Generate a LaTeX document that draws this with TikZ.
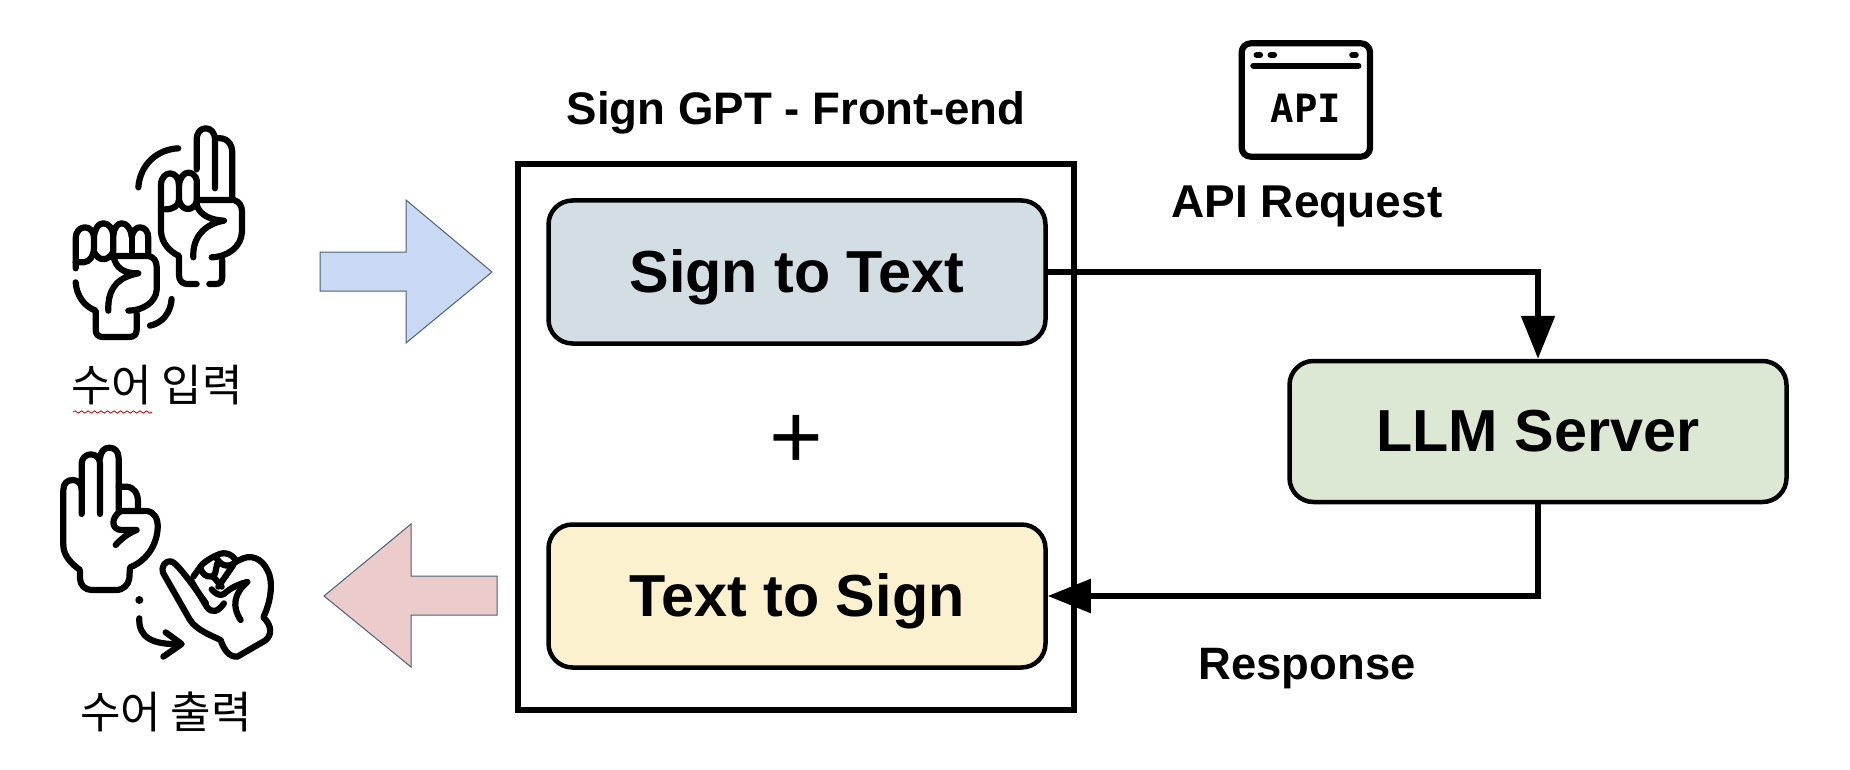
\documentclass[tikz,border=0pt]{standalone}
\usepackage{fontspec}
\setmainfont{Liberation Sans}
\newfontfamily\krfont{Noto Sans CJK KR}
\newfontfamily\apifont{DejaVu Sans Mono}
\usetikzlibrary{arrows.meta,decorations.pathmorphing}
\definecolor{paneblue}{HTML}{D2DEE3}
\definecolor{paneyellow}{HTML}{FBF1CF}
\definecolor{panegreen}{HTML}{DDE8D4}
\definecolor{arrowblue}{HTML}{C9D8F3}
\definecolor{arrowpink}{HTML}{EBCCCB}
\definecolor{arrowedge}{HTML}{4F5F7A}
\tikzset{
  x=1pt,y=-1pt,
  pane/.style={draw=black,line width=4.5pt,rounded corners=24pt,minimum width=497pt,minimum height=143pt,inner sep=0pt,font=\fontsize{59.3}{59}\selectfont\bfseries},
  frontend/.style={draw=black,line width=6pt,minimum width=556pt,minimum height=546pt},
  label/.style={inner sep=0pt,font=\fontsize{46}{46}\selectfont\bfseries},
  krlabel/.style={inner sep=0pt,font=\fontsize{44}{44}\selectfont\krfont},
  link/.style={line width=5.5pt,-{Triangle[length=43pt,width=33pt]}},
  bigarrow/.style={draw=arrowedge,line width=1pt},
  glyph/.style={line width=6.2pt,line cap=round,line join=round,draw=black},
}
\begin{document}
\begin{tikzpicture}
\useasboundingbox (0,0) rectangle (1850,770);

% front-end
\node[frontend] (fe) at (796,437) {};
\node[pane,fill=paneblue,text depth=5pt,text height=50pt] (s2t) at (797,272) {};
\node[inner sep=0pt,font=\fontsize{59.3}{59}\selectfont\bfseries] (s2ttext) at (797,277) {Sign to Text};
\node[pane,fill=paneyellow] (t2s) at (797,596) {};
\node[inner sep=0pt,font=\fontsize{59.3}{59}\selectfont\bfseries] (t2stext) at (797,601) {Text to Sign};
\node[pane,fill=panegreen,minimum height=141pt] (llm) at (1538,431.5) {LLM Server};
\node[inner sep=0pt,font=\fontsize{92}{92}\selectfont] (plus) at (796,442) {+};
\node[label,font=\fontsize{45.6}{46}\selectfont\bfseries] (title) at (796,113) {Sign GPT - Front-end};
\node[label] (req) at (1307,206) {API Request};
\node[label,font=\fontsize{45.4}{45}\selectfont\bfseries] (resp) at (1307,669) {Response};

% connectors
\draw[link] (s2t.east) -| (llm.north);
\draw[link] (llm.south) |- (t2s.east);

% big block arrows
\path[fill=arrowblue,bigarrow] (320,252) -- (406,252) -- (406,200) -- (492,272) -- (406,343) -- (406,291) -- (320,291) -- cycle;
\path[fill=arrowpink,bigarrow] (497,576) -- (411,576) -- (411,524) -- (324,596) -- (411,667) -- (411,615) -- (497,615) -- cycle;

% Korean labels
\node[krlabel] (inlabel) at (157,385) {수어 입력};
\node[krlabel] (outlabel) at (166,712) {수어 출력};
\draw[red!75!black,line width=0.8pt,decorate,decoration={snake,amplitude=1.2pt,segment length=6.5pt}] (73,412) -- (152,412);

% API icon
\begin{scope}[shift={(1200,20)},x=0.33333pt,y=-0.33333pt]
\draw[glyph,rounded corners=9pt] (125,70) rectangle (510,410);
\draw[glyph] (160,137) -- (475,137);
\draw[glyph] (170,105) -- (180,105);
\draw[glyph] (212,105) -- (222,105);
\draw[glyph] (457,105) -- (467,105);
\node[font=\fontsize{39}{39}\selectfont\apifont\bfseries,inner sep=0pt] (apiword) at (318,265) {API};
\end{scope}

% sign input
\begin{scope}[shift={(30,100)},x=0.33333pt,y=-0.33333pt]
% fist
\draw[glyph] (137,505) -- (137,415) .. controls (137,395) and (150,382) .. (165,382) .. controls (180,382) and (190,395) .. (192,410) .. controls (195,385) and (205,370) .. (220,370) .. controls (235,370) and (248,385) .. (250,405) .. controls (252,385) and (262,370) .. (275,370) .. controls (290,370) and (303,385) .. (305,410) .. controls (310,390) and (320,382) .. (330,382) .. controls (345,382) and (355,395) .. (355,415) -- (355,462);
\draw[glyph] (137,487) -- (160,487) .. controls (180,485) and (190,470) .. (192,445) -- (192,410);
\draw[glyph] (192,455) .. controls (205,485) and (235,485) .. (250,455) -- (250,405);
\draw[glyph] (305,410) -- (305,462);
\draw[glyph] (250,468) -- (355,468) .. controls (372,470) and (380,485) .. (380,500) -- (380,570) .. controls (378,605) and (340,632) .. (295,632);
\draw[glyph] (250,468) .. controls (258,505) and (280,520) .. (325,520) .. controls (270,530) and (232,560) .. (235,632);
\draw[glyph] (137,547) .. controls (140,590) and (165,620) .. (197,632) -- (197,690) .. controls (197,703) and (205,711) .. (218,711) -- (298,711) .. controls (312,711) and (320,703) .. (320,690) -- (320,640);
\draw[glyph] (325,262) .. controls (330,195) and (380,148) .. (445,145);
\draw[glyph] (360,677) .. controls (395,670) and (422,640) .. (425,597);
% two fingers
\draw[glyph] (500,208) -- (500,120) .. controls (500,97) and (512,85) .. (527,85) .. controls (542,85) and (555,97) .. (555,120) -- (555,265);
\draw[glyph] (555,115) .. controls (590,110) and (607,130) .. (607,160) -- (607,297);
\draw[glyph] (500,300) -- (612,300) .. controls (628,305) and (636,318) .. (636,335) -- (636,395) .. controls (634,440) and (595,470) .. (545,472);
\draw[glyph] (393,325) -- (393,255) .. controls (393,232) and (408,220) .. (420,220) .. controls (435,220) and (447,235) .. (447,255) .. controls (450,232) and (462,218) .. (475,218) .. controls (488,218) and (497,228) .. (500,240) -- (500,320);
\draw[glyph] (447,250) -- (447,300) .. controls (445,318) and (430,328) .. (405,328);
\draw[glyph] (447,300) .. controls (455,335) and (490,335) .. (500,305);
\draw[glyph] (500,315) .. controls (510,345) and (540,360) .. (582,362) .. controls (525,372) and (487,410) .. (490,472);
\draw[glyph] (393,325) -- (393,395) .. controls (395,430) and (420,455) .. (447,468) -- (447,525) .. controls (447,542) and (457,552) .. (472,552) -- (500,552);
\draw[glyph] (538,552) -- (558,552) .. controls (570,552) and (577,545) .. (577,530) -- (577,480);
\end{scope}

% sign output
\begin{scope}[shift={(30,430)},x=0.33333pt,y=-0.33333pt]
\draw[glyph] (100,345) -- (100,180) .. controls (100,160) and (112,150) .. (128,150) .. controls (142,150) and (155,160) .. (155,178);
\draw[glyph] (155,252) -- (155,100) .. controls (155,85) and (168,73) .. (182,73) .. controls (198,73) and (210,85) .. (210,100) -- (210,252);
\draw[glyph] (210,85) .. controls (212,65) and (222,53) .. (238,53) .. controls (255,53) and (266,65) .. (266,85) -- (266,240);
\draw[glyph] (266,170) -- (290,170) .. controls (312,172) and (324,190) .. (324,215) -- (324,240);
\draw[glyph] (272,243) -- (350,243) .. controls (372,245) and (385,265) .. (383,295) .. controls (380,350) and (345,395) .. (300,412) -- (298,445) .. controls (295,465) and (280,480) .. (258,480) -- (185,480) .. controls (165,480) and (150,465) .. (150,445) -- (150,420) .. controls (115,395) and (100,370) .. (100,345);
\draw[glyph] (272,243) .. controls (240,265) and (245,300) .. (275,300) -- (320,300) .. controls (295,310) and (275,325) .. (257,345);
% rotated hand: outline
\draw[glyph] (425,395) .. controls (405,390) and (392,410) .. (400,430) -- (480,570) .. controls (500,600) and (540,615) .. (572,630) .. controls (580,655) and (595,682) .. (622,680) -- (705,632) .. controls (728,615) and (725,585) .. (700,562) .. controls (725,510) and (730,450) .. (712,420) .. controls (695,385) and (665,375) .. (640,385) -- (618,395) .. controls (612,375) and (585,362) .. (562,375) .. controls (550,380) and (520,395) .. (510,412) -- (490,440);
% little finger and curled finger
\draw[glyph] (425,395) .. controls (440,400) and (470,440) .. (528,520);
\draw[glyph] (482,450) -- (530,530) .. controls (545,552) and (565,545) .. (582,520);
% knuckles
\draw[glyph] (510,412) .. controls (520,442) and (545,447) .. (555,432) -- (562,400);
\draw[glyph] (560,385) .. controls (575,412) and (600,412) .. (618,395);
\draw[glyph] (610,405) -- (565,470);
\draw[glyph] (550,440) -- (575,470);
% thumb
\draw[glyph] (652,456) .. controls (625,462) and (600,475) .. (582,492) .. controls (570,500) and (555,490) .. (545,478);
\draw[glyph] (652,456) .. controls (612,490) and (605,530) .. (632,570);
% motion dot and arrow
\fill (328,510) circle (12);
\draw[glyph] (328,565) .. controls (325,620) and (365,645) .. (450,642);
\draw[glyph] (407,607) -- (455,642) -- (400,680);
\end{scope}
\end{tikzpicture}
\end{document}
